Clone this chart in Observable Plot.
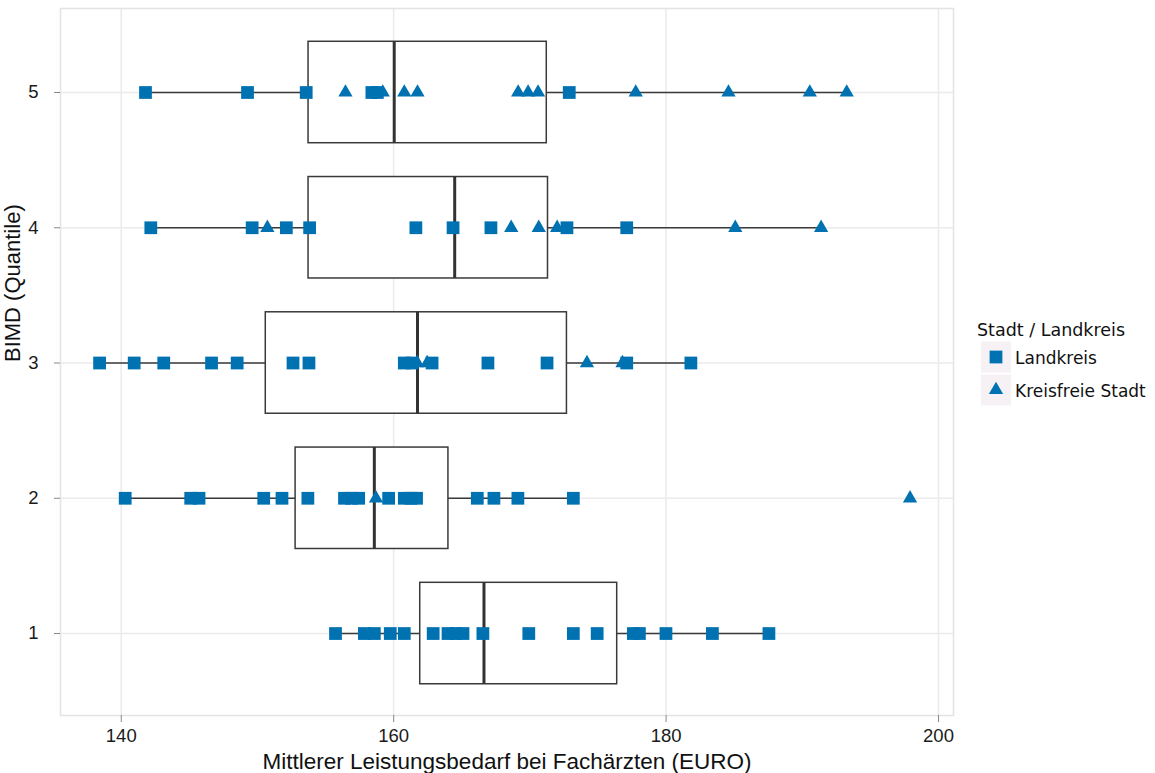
<!DOCTYPE html>
<html>
<head>
<meta charset="utf-8">
<script src="https://cdn.jsdelivr.net/npm/d3@7"></script>
<script src="https://cdn.jsdelivr.net/npm/@observablehq/plot@0.6"></script>
<style>
  body { margin: 0; background: #fff; }
  #wrap { position: relative; width: 1155px; height: 773px; }
  #chart { position: absolute; left: 0; top: 0; }
  #legend { position: absolute; left: 0; top: 0; }
</style>
</head>
<body>
<div id="wrap"><div id="chart"></div><svg id="legend" width="1155" height="773"></svg></div>
<script>
// Box statistics per BIMD quantile
const bimd      = [1, 2, 3, 4, 5];
const whiskerLo = [155.73, 140.29, 138.41, 142.17, 141.78];
const q1        = [161.95, 152.80, 150.61, 153.75, 153.75];
const median    = [166.63, 158.58, 161.75, 164.48, 160.04];
const q3        = [176.41, 164.02, 172.72, 171.33, 171.24];
const whiskerHi = [187.55, 173.19, 181.87, 191.38, 193.26];

// Individual values: Landkreis (squares)
const landkreis1 = [155.73, 157.85, 158.58, 159.75, 160.78, 162.9, 163.99, 164.56, 165.09, 166.55, 169.92, 173.19, 174.94, 177.6, 178.04, 179.99, 183.40, 187.55];
const landkreis2 = [140.29, 145.1, 145.71, 150.46, 151.8, 153.7, 156.39, 156.92, 157.43, 159.63, 160.78, 161.27, 161.68, 166.14, 167.36, 169.12, 173.19];
const landkreis3 = [138.41, 140.95, 143.12, 146.63, 148.51, 152.61, 153.78, 160.78, 161.36, 162.82, 166.92, 171.26, 177.11, 181.82];
const landkreis4 = [142.17, 149.61, 152.12, 153.83, 161.63, 164.36, 167.14, 172.72, 177.11];
const landkreis5 = [141.78, 149.27, 153.58, 158.4, 158.8, 172.89];

// Individual values: Kreisfreie Stadt (triangles)
const stadt1 = [];
const stadt2 = [158.7, 197.91];
const stadt3 = [161.73, 162.46, 174.19, 176.8];
const stadt4 = [150.73, 168.63, 170.65, 172.0, 185.08, 191.38];
const stadt5 = [156.46, 159.2, 160.78, 161.75, 169.14, 169.87, 170.6, 177.77, 184.58, 190.55, 193.26];

const xTicks = [140, 160, 180, 200];
const xTitle = "Mittlerer Leistungsbedarf bei Fachärzten (EURO)";
const yTitle = "BIMD (Quantile)";
const legendTitle = "Stadt / Landkreis";
const groups = ["Landkreis", "Kreisfreie Stadt"];

const blue = "#0072b2";
const boxes = bimd.map((b, i) => ({b, lo: whiskerLo[i], q1: q1[i], med: median[i], q3: q3[i], hi: whiskerHi[i]}));
const lk = [landkreis1, landkreis2, landkreis3, landkreis4, landkreis5];
const st = [stadt1, stadt2, stadt3, stadt4, stadt5];
const pts = [];
lk.forEach((arr, i) => arr.forEach(v => pts.push({b: bimd[i], v, g: groups[0]})));
st.forEach((arr, i) => arr.forEach(v => pts.push({b: bimd[i], v, g: groups[1]})));
const hw = 0.375;

const chart = Plot.plot({
  width: 960,
  height: 773,
  marginLeft: 60,
  marginRight: 7,
  marginTop: 8,
  marginBottom: 58,
  style: {fontFamily: "Liberation Sans, Arial, sans-serif", background: "transparent"},
  x: {domain: [135.54, 201.1]},
  y: {domain: [0.394, 5.621]},
  marks: [
    Plot.gridX(xTicks, {stroke: "#ebebeb", strokeOpacity: 1, strokeWidth: 1.6}),
    Plot.gridY(bimd, {stroke: "#ebebeb", strokeOpacity: 1, strokeWidth: 1.6}),
    Plot.frame({stroke: "#e3e3e3", strokeWidth: 1.5}),
    Plot.ruleY(boxes, {y: "b", x1: "lo", x2: "hi", stroke: "#3a3a3a", strokeWidth: 1.4}),
    Plot.rect(boxes, {x1: "q1", x2: "q3", y1: d => d.b - hw, y2: d => d.b + hw, fill: "white", stroke: "#3a3a3a", strokeWidth: 1.5}),
    Plot.ruleX(boxes, {x: "med", y1: d => d.b - hw, y2: d => d.b + hw, stroke: "#333", strokeWidth: 3}),
    Plot.dot(pts.filter(d => d.g === groups[0]), {x: "v", y: "b", symbol: "square", r: 7.2, fill: blue, stroke: null}),
    Plot.dot(pts.filter(d => d.g === groups[1]), {x: "v", y: "b", symbol: "triangle", r: 5.3, fill: blue, stroke: null}),
    Plot.axisX(xTicks, {tickSize: 7, tickPadding: 6, fontSize: 18.5, stroke: "#888", fill: "#1a1a1a", label: null, tickFormat: d => String(d)}),
    Plot.axisY(bimd, {tickSize: 6, tickPadding: 16, fontSize: 18.5, stroke: "#888", fill: "#1a1a1a", label: null, tickFormat: d => String(d)}),
    Plot.text([xTitle], {frameAnchor: "bottom", dy: 46, fontSize: 22.5, fill: "#111", lineAnchor: "middle"}),
    Plot.text([yTitle], {frameAnchor: "left", dx: -48, rotate: -90, fontSize: 22, fill: "#111", lineAnchor: "middle"})
  ]
});
document.getElementById("chart").appendChild(chart);

// Legend
const lg = d3.select("#legend");
lg.append("text").attr("x", 977).attr("y", 330).attr("dy", "0.35em")
  .attr("font-family", "DejaVu Sans, sans-serif").attr("font-size", 17.5).attr("fill", "#111").text(legendTitle);
groups.forEach((g, i) => {
  const cy = 357 + i * 33;
  lg.append("rect").attr("x", 981).attr("y", cy - 15.5).attr("width", 30).attr("height", 31).attr("fill", "#f5f1f5");
  lg.append("path").attr("transform", `translate(996,${cy})`)
    .attr("d", d3.symbol(i === 0 ? d3.symbolSquare : d3.symbolTriangle, i === 0 ? Math.PI * 7.2 * 7.2 : Math.PI * 5.3 * 5.3)())
    .attr("fill", blue);
  lg.append("text").attr("x", 1015).attr("y", cy + 1).attr("dy", "0.35em")
    .attr("font-family", "DejaVu Sans, sans-serif").attr("font-size", 17).attr("fill", "#111").text(g);
});
</script>
</body>
</html>
